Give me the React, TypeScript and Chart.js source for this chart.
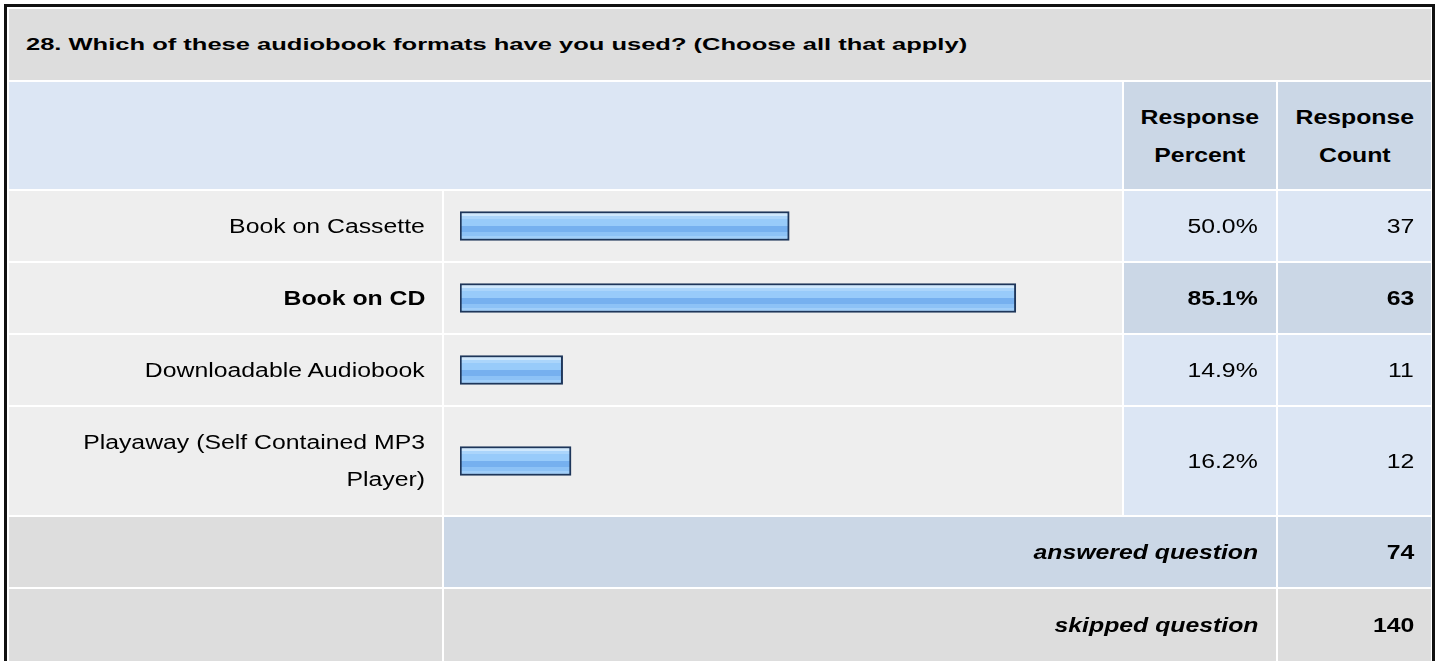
import React, { useEffect, useRef } from 'react';
import { Chart, registerables } from 'chart.js';

Chart.register(...registerables);

// ---- data ----
const title = '28. Which of these audiobook formats have you used? (Choose all that apply)';
const categories = ['Book on Cassette', 'Book on CD', 'Downloadable Audiobook', 'Playaway (Self Contained MP3 Player)'];
const percents = [50.0, 85.1, 14.9, 16.2];
const counts = [37, 63, 11, 12];
const highlightedCategory = 'Book on CD';
const headerPercent = ['Response', 'Percent'];
const headerCount = ['Response', 'Count'];
const answeredLabel = 'answered question';
const answeredCount = 74;
const skippedLabel = 'skipped question';
const skippedCount = 140;
const xRange = [-1, 100];

// ---- style ----
const FONT = '"Liberation Sans", Arial, Helvetica, sans-serif';
const FS = 20;
const SX = 1.24;
const FS_TITLE = 16.5;
const SX_TITLE = 1.546;
const COLS = [433, 678, 152, 153];
const ROWS = [71, 107, 70, 70, 70, 108, 70, 72];
const GRAY = '#dddddd';
const LIGHT = '#eeeeee';
const BLUE = '#dce6f4';
const BLUE2 = '#cbd7e6';

function Txt(props: { children: any; align: 'left' | 'right' | 'center'; bold?: boolean; italic?: boolean; maxW?: number; sx?: number; fs?: number }) {
  const { children, align, bold, italic, maxW, sx, fs } = props;
  return (
    <span
      style={{
        display: 'inline-block',
        transform: `scaleX(${sx || SX})`,
        transformOrigin: align === 'right' ? 'right center' : align === 'left' ? 'left center' : 'center center',
        fontWeight: bold ? 'bold' : 'normal',
        fontStyle: italic ? 'italic' : 'normal',
        fontSize: fs || FS,
        textAlign: align,
        maxWidth: maxW,
        whiteSpace: maxW ? 'normal' : 'nowrap',
      }}
    >
      {children}
    </span>
  );
}

function barFill(ctx: any) {
  const chart = ctx.chart;
  const area = chart.chartArea;
  if (!area) return '#98cbfa';
  const mid = (area.top + area.bottom) / 2;
  const top = mid - 14.5;
  const g = chart.ctx.createLinearGradient(0, top, 0, top + 29);
  g.addColorStop(0, '#cfe8fd');
  g.addColorStop(0.14, '#cfe8fd');
  g.addColorStop(0.14, '#abd5fb');
  g.addColorStop(0.27, '#abd5fb');
  g.addColorStop(0.27, '#98cbfa');
  g.addColorStop(0.5, '#98cbfa');
  g.addColorStop(0.5, '#76b0ef');
  g.addColorStop(0.69, '#76b0ef');
  g.addColorStop(0.69, '#8dc2f6');
  g.addColorStop(0.83, '#8dc2f6');
  g.addColorStop(0.83, '#a0cef9');
  g.addColorStop(1, '#a0cef9');
  return g;
}

function BarCell(props: { label: string; value: number; height: number }) {
  const ref = useRef<HTMLCanvasElement>(null);
  useEffect(() => {
    const chart = new Chart(ref.current as HTMLCanvasElement, {
      type: 'bar',
      data: {
        labels: [props.label],
        datasets: [
          {
            data: [props.value],
            base: xRange[0],
            backgroundColor: barFill as any,
            borderColor: '#1e365a',
            borderWidth: 2,
            borderSkipped: false as any,
            barThickness: 29,
          } as any,
        ],
      },
      options: {
        indexAxis: 'y',
        animation: false,
        responsive: false,
        maintainAspectRatio: false,
        events: [],
        layout: { padding: { left: 16, right: 10, top: 0, bottom: 0 } },
        scales: {
          x: { display: false, min: xRange[0], max: xRange[1] },
          y: { display: false },
        },
        plugins: { legend: { display: false }, tooltip: { enabled: false } },
      },
    });
    return () => chart.destroy();
  }, [props.label, props.value]);
  return <canvas ref={ref} width={COLS[1]} height={props.height} style={{ display: 'block' }} />;
}

function cell(bg: string, extra: any = {}): any {
  return {
    background: bg,
    display: 'flex',
    alignItems: 'center',
    lineHeight: '37px',
    overflow: 'hidden',
    ...extra,
  };
}

export default function App() {
  const right = (pr: number) => ({ justifyContent: 'flex-end', paddingRight: pr });
  return (
    <div
      style={{
        position: 'absolute',
        left: 4,
        top: 4,
        border: '3px solid #111',
        borderBottom: 'none',
        padding: '2px 1px 0 2px',
        background: '#fff',
        fontFamily: FONT,
        fontSize: FS,
        color: '#000',
      }}
    >
      <div
        style={{
          display: 'grid',
          gridTemplateColumns: COLS.map((c) => c + 'px').join(' '),
          gridTemplateRows: ROWS.map((r) => r + 'px').join(' '),
          columnGap: 2,
          rowGap: 2,
        }}
      >
        <div style={cell(GRAY, { gridColumn: '1 / 5', paddingLeft: 17 })}>
          <Txt align="left" bold sx={SX_TITLE} fs={FS_TITLE}>{title}</Txt>
        </div>

        <div style={cell(BLUE, { gridColumn: '1 / 3' })} />
        <div style={cell(BLUE2, { justifyContent: 'center', lineHeight: '38px' })}>
          <Txt align="center" bold>
            {headerPercent[0]}
            <br />
            {headerPercent[1]}
          </Txt>
        </div>
        <div style={cell(BLUE2, { justifyContent: 'center', lineHeight: '38px' })}>
          <Txt align="center" bold>
            {headerCount[0]}
            <br />
            {headerCount[1]}
          </Txt>
        </div>

        {categories.map((c, i) => {
          const hi = c === highlightedCategory;
          const h = ROWS[2 + i];
          return (
            <React.Fragment key={c}>
              <div style={cell(LIGHT, right(17))}>
                <Txt align="right" bold={hi} maxW={320}>{c}</Txt>
              </div>
              <div style={{ background: LIGHT, height: h }}>
                <BarCell label={c} value={percents[i]} height={h} />
              </div>
              <div style={cell(hi ? BLUE2 : BLUE, right(18))}>
                <Txt align="right" bold={hi}>{percents[i].toFixed(1) + '%'}</Txt>
              </div>
              <div style={cell(hi ? BLUE2 : BLUE, right(17))}>
                <Txt align="right" bold={hi}>{String(counts[i])}</Txt>
              </div>
            </React.Fragment>
          );
        })}

        <div style={cell(GRAY)} />
        <div style={cell(BLUE2, { gridColumn: '2 / 4', ...right(18) })}>
          <Txt align="right" bold italic>{answeredLabel}</Txt>
        </div>
        <div style={cell(BLUE2, right(17))}>
          <Txt align="right" bold>{String(answeredCount)}</Txt>
        </div>

        <div style={cell(GRAY)} />
        <div style={cell(GRAY, { gridColumn: '2 / 4', ...right(18) })}>
          <Txt align="right" bold italic>{skippedLabel}</Txt>
        </div>
        <div style={cell(GRAY, right(17))}>
          <Txt align="right" bold>{String(skippedCount)}</Txt>
        </div>
      </div>
    </div>
  );
}
